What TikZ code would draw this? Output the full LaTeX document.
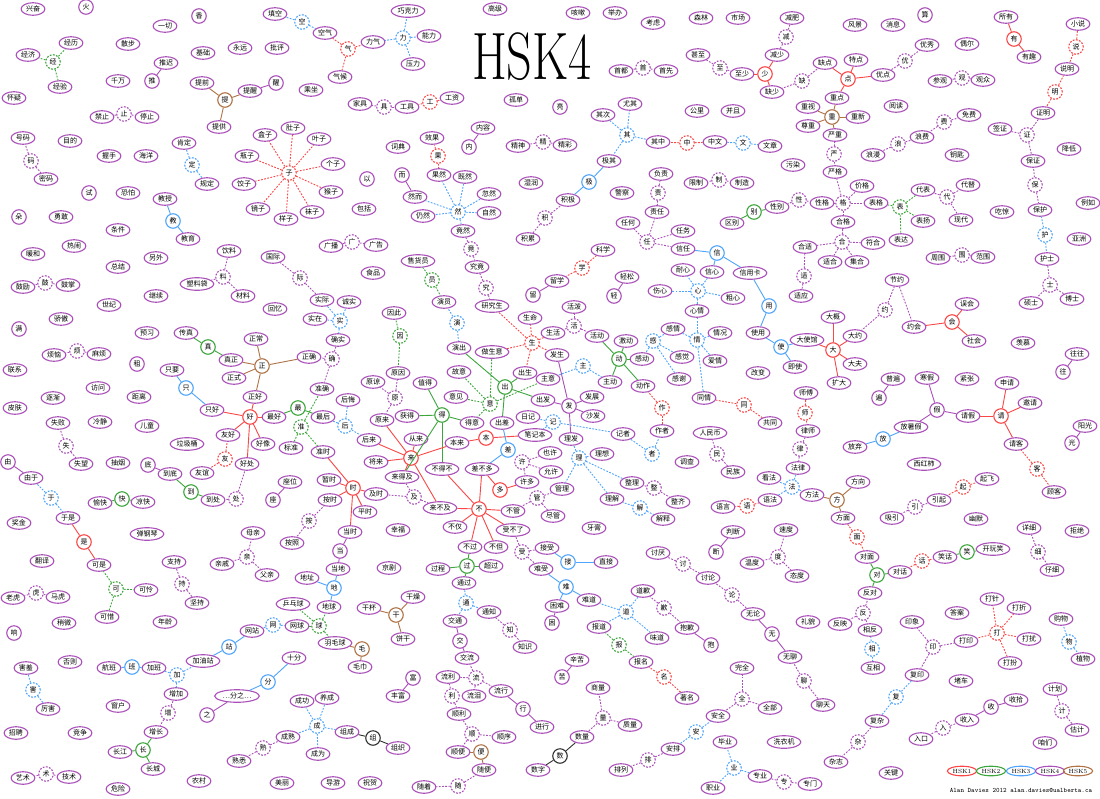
\documentclass[tikz,border=0pt]{standalone}
\usepackage{fontspec}
\usepackage{graphicx}
\newfontfamily\cjk{Noto Sans CJK SC}
\usetikzlibrary{shapes.geometric}
\definecolor{cR}{RGB}{250,70,70}
\definecolor{cG}{RGB}{60,165,60}
\definecolor{cB}{RGB}{80,165,250}
\definecolor{cP}{RGB}{170,80,185}
\definecolor{cN}{RGB}{175,115,70}
\definecolor{cK}{RGB}{50,50,50}
\tikzset{
 basic/.style={font=\cjk\fontsize{7}{7}\selectfont, fill=white, line width=1.1pt},
 w/.style={basic, ellipse, draw=cP, inner xsep=1.4pt, inner ysep=1.2pt, text height=5.6pt, text depth=0.9pt},
 hub/.style={basic, circle, minimum size=14.5pt, inner sep=0pt},
 dsh/.style={dash pattern=on 1.8pt off 1.4pt},
 hR/.style={hub, draw=cR}, hRd/.style={hR, dsh},
 hG/.style={hub, draw=cG}, hGd/.style={hG, dsh},
 hB/.style={hub, draw=cB}, hBd/.style={hB, dsh},
 hP/.style={hub, draw=cP}, hPd/.style={hP, dsh},
 hN/.style={hub, draw=cN}, hK/.style={hub, draw=cK},
 edge/.style={line width=0.9pt},
 eR/.style={edge, draw=cR}, eRd/.style={eR, dsh},
 eG/.style={edge, draw=cG}, eGd/.style={eG, dsh},
 eB/.style={edge, draw=cB}, eBd/.style={eB, dsh},
 eP/.style={edge, draw=cP}, ePd/.style={eP, dsh},
 eN/.style={edge, draw=cN}, eK/.style={edge, draw=cK},
 lg/.style={ellipse, line width=1.1pt, fill=white, inner xsep=1pt, inner ysep=1.2pt, font=\fontsize{6}{6}\selectfont}
}
\newcommand\WN[3]{\node[w] (#3) at (#1,#2) {#3};}
\newcommand\HB[4]{\node[#1] (#4) at (#2,#3) {#4};}
\newcommand\LK[3]{\foreach \tg in {#3}{\draw[#1] (#2) -- (\tg);}}
\begin{document}
\begin{tikzpicture}[x=1pt,y=-1pt]
\useasboundingbox (0,0) rectangle (1100,798);
\fill[white] (0,0) rectangle (1100,798);
\node[anchor=base] (title) at (532,79) {\scalebox{0.75}[1]{\fontsize{67}{67}\selectfont HSK4}};
% ---------- region 1
\WN{33}{9}{兴奋}\HB{hP}{86}{7}{火}\HB{hP}{199}{16}{香}\WN{165}{26}{一切}\WN{275}{14}{填空}
\WN{71}{43}{经历}\WN{28}{55}{经济}\HB{hGd}{53}{62}{经}\WN{60}{87}{经验}\WN{128}{44}{散步}
\WN{166}{63}{推迟}\HB{hP}{152}{81}{推}\WN{118}{81}{千万}\WN{203}{53}{基础}\WN{240}{48}{永远}
\WN{277}{48}{批评}\WN{202}{83}{提前}\HB{hN}{225}{100}{提}\WN{250}{91}{提醒}\HB{hP}{276}{83}{醒}
\WN{219}{127}{提供}\WN{14}{98}{怀疑}\WN{102}{117}{禁止}\HB{hPd}{124}{114}{止}\WN{147}{117}{停止}
\WN{23}{138}{号码}\HB{hPd}{31}{161}{码}\WN{46}{179}{密码}\WN{70}{141}{目的}\WN{109}{156}{握手}
\WN{146}{156}{海洋}\WN{184}{143}{肯定}\HB{hBd}{192}{165}{定}\WN{207}{184}{规定}\WN{265}{135}{盒子}
\WN{247}{156}{瓶子}\WN{244}{184}{饺子}\WN{258}{209}{镜子}\HB{hP}{89}{193}{试}\WN{128}{193}{恐怕}
\WN{165}{199}{教授}\HB{hB}{173}{221}{教}\WN{188}{239}{教育}\HB{hP}{19}{217}{朵}\WN{61}{217}{勇敢}
\WN{118}{230}{条件}\WN{33}{254}{暖和}\WN{74}{246}{热闹}\WN{156}{258}{另外}\WN{229}{251}{饮料}
\WN{273}{257}{国际}\WN{118}{267}{总结}\HB{hRd}{289}{173}{子}
% ---------- region 2
\HB{hBd}{302}{22}{空}\WN{325}{33}{空气}\HB{hRd}{348}{49}{气}\WN{340}{77}{气候}\WN{373}{42}{力气}
\HB{hBd}{403}{38}{力}\WN{408}{11}{巧克力}\WN{429}{36}{能力}\WN{413}{64}{压力}\WN{495}{9}{高级}
\WN{311}{90}{乘坐}\WN{360}{104}{家具}\HB{hPd}{384}{107}{具}\WN{407}{107}{工具}\HB{hRd}{430}{102}{工}
\WN{452}{98}{工资}\WN{516}{100}{孤单}\WN{293}{128}{肚子}\WN{319}{139}{叶子}\WN{333}{164}{个子}
\WN{331}{192}{猴子}\WN{312}{212}{袜子}\WN{286}{219}{样子}\WN{398}{147}{词典}\WN{432}{138}{效果}
\HB{hRd}{438}{156}{果}\WN{483}{128}{内容}\HB{hP}{469}{147}{内}\WN{518}{146}{精神}\HB{hPd}{543}{142}{精}
\HB{hP}{367}{179}{以}\HB{hP}{402}{175}{而}\WN{415}{197}{然而}\WN{439}{175}{果然}\WN{465}{177}{既然}
\WN{489}{194}{忽然}\HB{hBd}{458}{212}{然}\WN{423}{216}{仍然}\WN{489}{213}{自然}\WN{463}{231}{竟然}
\HB{hPd}{471}{249}{竟}\WN{477}{267}{究竟}\WN{531}{183}{湿润}\HB{hPd}{545}{218}{积}\WN{528}{239}{积累}
\WN{364}{209}{包括}\WN{331}{246}{广播}\HB{hPd}{352}{242}{广}\WN{376}{245}{广告}\WN{418}{261}{售货员}
% ---------- region 3
\WN{578}{13}{咳嗽}\WN{615}{13}{举办}\WN{653}{23}{考虑}\WN{701}{18}{森林}\WN{738}{18}{市场}
\WN{792}{18}{减肥}\HB{hPd}{786}{37}{减}\WN{777}{55}{减少}\HB{hR}{765}{74}{少}\WN{772}{92}{缺少}
\HB{hPd}{802}{81}{缺}\WN{698}{55}{甚至}\HB{hPd}{720}{68}{至}\WN{742}{74}{至少}\WN{621}{71}{首都}
\HB{hPd}{643}{68}{首}\WN{666}{71}{首先}\HB{hP}{560}{107}{亮}\WN{630}{104}{尤其}\WN{603}{115}{其次}
\HB{hBd}{627}{135}{其}\WN{658}{142}{其中}\HB{hRd}{687}{143}{中}\WN{715}{142}{中文}\HB{hBd}{743}{143}{文}
\WN{770}{146}{文章}\WN{697}{111}{公里}\WN{733}{111}{并且}\WN{808}{107}{重视}\WN{808}{126}{尊重}
\WN{565}{145}{精彩}\WN{609}{161}{极其}\HB{hB}{589}{182}{极}\WN{568}{200}{积极}\WN{661}{174}{负责}
\HB{hPd}{658}{193}{责}\WN{657}{212}{责任}\WN{622}{193}{警察}\WN{696}{183}{限制}\HB{hPd}{719}{180}{制}
\WN{742}{183}{制造}\WN{793}{165}{污染}\WN{628}{223}{任何}\HB{hPd}{647}{242}{任}\WN{683}{231}{任务}
\WN{683}{249}{信任}\HB{hB}{717}{253}{信}\WN{732}{223}{区别}\HB{hG}{754}{212}{别}\WN{777}{207}{性别}
\HB{hPd}{799}{200}{性}\WN{822}{203}{性格}\WN{805}{247}{合适}\WN{603}{250}{科学}\HB{hRd}{582}{268}{学}
% ---------- region 4
\WN{855}{25}{风景}\WN{893}{25}{消息}\HB{hP}{925}{15}{算}\WN{1006}{17}{所有}\HB{hR}{1014}{39}{有}
\WN{1029}{57}{有趣}\WN{1078}{24}{小说}\HB{hRd}{1076}{47}{说}\WN{1067}{69}{说明}\HB{hRd}{1055}{92}{明}
\WN{1043}{113}{证明}\HB{hPd}{1027}{135}{证}\WN{1000}{129}{签证}\WN{1033}{161}{保证}\HB{hPd}{1035}{185}{保}
\WN{1040}{210}{保护}\HB{hBd}{1045}{235}{护}\WN{1047}{259}{护士}\WN{825}{63}{缺点}\WN{856}{60}{特点}
\HB{hR}{848}{79}{点}\WN{883}{75}{优点}\HB{hPd}{905}{61}{优}\WN{927}{45}{优秀}\WN{967}{44}{偶尔}
\WN{940}{81}{参观}\HB{hPd}{962}{78}{观}\WN{983}{80}{观众}\WN{837}{98}{重点}\HB{hN}{832}{117}{重}
\WN{858}{117}{重新}\WN{835}{135}{严重}\HB{hPd}{834}{154}{严}\WN{835}{172}{严格}\WN{896}{106}{阅读}
\WN{969}{115}{免费}\HB{hPd}{944}{122}{费}\WN{922}{137}{浪费}\HB{hPd}{898}{144}{浪}\WN{873}{155}{浪漫}
\WN{957}{155}{钥匙}\WN{1069}{149}{降低}\WN{862}{186}{价格}\HB{hPd}{843}{203}{格}\WN{876}{203}{表格}
\HB{hGd}{900}{207}{表}\WN{923}{190}{代表}\HB{hPd}{947}{197}{代}\WN{968}{185}{代替}\WN{961}{220}{现代}
\WN{923}{221}{表扬}\WN{901}{240}{表达}\WN{843}{222}{合格}\HB{hPd}{842}{242}{合}\WN{873}{243}{符合}
\WN{830}{262}{适合}\WN{857}{262}{集合}\WN{1002}{212}{吃惊}\WN{1088}{203}{例如}\WN{1079}{239}{亚洲}
\WN{938}{258}{周围}\HB{hPd}{962}{255}{围}\WN{983}{257}{范围}
% ---------- region 5
\WN{23}{287}{鼓励}\HB{hPd}{45}{283}{鼓}\WN{68}{285}{鼓掌}\WN{197}{284}{塑料袋}\HB{hPd}{223}{277}{料}
\WN{243}{296}{材料}\WN{156}{296}{继续}\WN{109}{305}{世纪}\WN{275}{309}{回忆}\WN{61}{319}{骄傲}
\HB{hP}{19}{329}{满}\WN{147}{333}{预习}\WN{186}{333}{传真}\HB{hG}{208}{347}{真}\WN{231}{360}{真正}
\WN{256}{339}{正常}\HB{hN}{262}{366}{正}\WN{234}{378}{正式}\WN{255}{397}{正好}\WN{54}{355}{烦恼}
\HB{hPd}{77}{351}{烦}\WN{99}{354}{麻烦}\WN{15}{370}{联系}\HB{hP}{137}{364}{租}\WN{172}{370}{只要}
\HB{hB}{186}{388}{只}\WN{212}{410}{只好}\WN{98}{388}{访问}\WN{53}{398}{逐渐}\WN{139}{397}{距离}
\WN{15}{408}{皮肤}\HB{hR}{250}{417}{好}\WN{274}{417}{最好}\WN{100}{422}{冷静}\WN{58}{423}{失败}
\HB{hPd}{66}{446}{失}\WN{81}{464}{失望}\WN{147}{426}{儿童}\WN{228}{435}{友好}\WN{263}{444}{好像}
\WN{187}{444}{垃圾桶}\HB{hRd}{225}{459}{友}\WN{202}{473}{友谊}\WN{247}{464}{好处}\HB{hPd}{236}{499}{处}
\HB{hP}{8}{462}{由}\WN{31}{478}{由于}\HB{hBd}{51}{498}{于}\WN{68}{518}{于是}\WN{118}{463}{抽烟}
\HB{hP}{148}{465}{底}\WN{170}{474}{到底}\HB{hG}{191}{492}{到}\WN{213}{500}{到处}\WN{100}{503}{愉快}
\HB{hG}{122}{499}{快}\WN{143}{502}{凉快}\HB{hP}{273}{500}{座}\WN{19}{523}{奖金}\WN{147}{534}{弹钢琴}
\WN{253}{533}{母亲}
% ---------- region 6
\HB{hPd}{300}{278}{际}\WN{373}{273}{食品}\HB{hGd}{432}{280}{员}\WN{444}{302}{演员}\HB{hBd}{457}{323}{演}
\WN{459}{348}{演出}\HB{hPd}{486}{288}{究}\WN{492}{306}{研究生}\HB{hP}{533}{295}{留}\WN{322}{300}{实际}
\WN{349}{302}{诚实}\WN{315}{319}{实在}\HB{hBd}{340}{321}{实}\WN{338}{340}{确实}\HB{hPd}{332}{359}{确}
\WN{309}{357}{正确}\WN{394}{313}{因此}\HB{hGd}{400}{336}{因}\WN{398}{373}{原因}\HB{hPd}{395}{398}{原}
\WN{373}{382}{原谅}\WN{382}{420}{原来}\WN{530}{318}{生命}\HB{hRd}{532}{343}{生}\WN{492}{352}{做生意}
\WN{525}{373}{出生}\WN{459}{372}{故意}\WN{425}{383}{值得}\HB{hG}{505}{387}{出}\WN{548}{379}{主意}
\HB{hGd}{490}{404}{意}\WN{456}{397}{意见}\WN{543}{400}{出发}\WN{322}{389}{准确}\HB{hG}{298}{408}{最}
\WN{323}{417}{最后}\WN{348}{400}{后悔}\HB{hBd}{345}{426}{后}\HB{hGd}{301}{427}{准}\WN{291}{448}{标准}
\WN{323}{452}{准时}\WN{407}{416}{获得}\HB{hG}{442}{415}{得}\WN{472}{423}{得意}\WN{502}{423}{出差}
\WN{528}{417}{日记}\WN{369}{440}{后来}\WN{416}{439}{从来}\WN{457}{443}{本来}\HB{hR}{486}{438}{本}
\WN{535}{435}{笔记本}\HB{hR}{411}{458}{来}\WN{376}{462}{将来}\WN{442}{469}{不得不}\HB{hB}{508}{450}{差}
\WN{482}{469}{差不多}\HB{hPd}{522}{462}{许}\WN{402}{477}{来得及}\HB{hR}{500}{490}{多}\WN{527}{482}{许多}
\WN{329}{480}{暂时}\HB{hR}{353}{488}{时}\WN{290}{482}{座位}\WN{376}{494}{及时}\HB{hPd}{414}{497}{及}
\WN{330}{500}{按时}\WN{365}{512}{平时}\HB{hPd}{309}{521}{按}\WN{440}{508}{来不及}\HB{hR}{479}{509}{不}
\WN{513}{511}{不管}\HB{hPd}{537}{498}{管}\WN{350}{532}{当时}\WN{398}{530}{幸福}\WN{455}{527}{不仅}
\WN{513}{530}{受不了}
% ---------- region 7
\WN{557}{281}{留学}\WN{627}{277}{轻松}\HB{hP}{614}{296}{轻}\WN{683}{270}{耐心}\WN{712}{272}{信心}
\WN{750}{273}{信用卡}\HB{hPd}{804}{276}{适}\WN{801}{296}{适应}\WN{660}{291}{伤心}\HB{hBd}{698}{291}{心}
\WN{733}{298}{粗心}\WN{697}{311}{心情}\HB{hB}{769}{306}{用}\WN{574}{307}{活泼}\HB{hPd}{574}{326}{活}
\WN{553}{333}{生活}\WN{597}{336}{活动}\WN{626}{341}{激动}\HB{hBd}{653}{341}{感}\WN{673}{329}{感情}
\HB{hBd}{697}{340}{情}\WN{720}{333}{情况}\WN{758}{333}{使用}\HB{hB}{781}{347}{使}\WN{807}{340}{大使馆}
\WN{557}{355}{发生}\HB{hG}{619}{359}{动}\WN{642}{359}{感动}\WN{682}{357}{感觉}\WN{715}{361}{爱情}
\WN{795}{367}{即使}\HB{hBd}{583}{366}{主}\WN{610}{382}{主动}\WN{679}{379}{感谢}\WN{758}{373}{改变}
\WN{643}{386}{动作}\WN{592}{397}{发展}\HB{hP}{569}{406}{发}\WN{593}{416}{沙发}\WN{704}{398}{同情}
\HB{hRd}{744}{405}{同}\HB{hRd}{662}{408}{作}\WN{806}{393}{师傅}\HB{hRd}{805}{413}{师}\WN{770}{423}{共同}
\HB{hBd}{553}{422}{记}\WN{623}{434}{记者}\WN{662}{431}{作者}\WN{710}{433}{人民币}\WN{808}{431}{律师}
\WN{571}{439}{理发}\WN{550}{453}{也许}\HB{hBd}{652}{454}{者}\HB{hPd}{717}{454}{民}\HB{hPd}{800}{449}{律}
\HB{hBd}{579}{458}{理}\WN{602}{454}{理想}\WN{687}{462}{调查}\WN{551}{472}{允许}\WN{798}{468}{法律}
\WN{733}{472}{民族}\WN{769}{478}{看法}\HB{hBd}{792}{487}{法}\WN{632}{483}{整理}\HB{hPd}{654}{488}{整}
\WN{562}{489}{管理}\WN{812}{495}{方法}\WN{678}{502}{整齐}\WN{612}{499}{理解}\WN{770}{500}{语法}
\WN{723}{507}{语言}\HB{hRd}{747}{506}{语}\HB{hBd}{640}{508}{解}\WN{553}{516}{尽管}\WN{663}{519}{解释}
\WN{594}{528}{牙膏}\WN{733}{532}{判断}\WN{786}{530}{速度}
% ---------- region 8
\HB{hPd}{1050}{285}{士}\WN{1031}{303}{硕士}\WN{1072}{299}{博士}\WN{897}{280}{节约}\HB{hPd}{885}{310}{约}
\WN{914}{327}{约会}\HB{hR}{952}{322}{会}\WN{967}{304}{误会}\WN{974}{341}{社会}\WN{833}{317}{大概}
\WN{855}{336}{大约}\HB{hR}{833}{350}{大}\WN{855}{364}{大夫}\WN{839}{383}{扩大}\WN{1023}{343}{羡慕}
\WN{1077}{354}{往往}\HB{hP}{1063}{372}{往}\WN{893}{379}{普遍}\HB{hP}{879}{398}{遍}\WN{927}{378}{寒假}
\WN{967}{379}{紧张}\WN{1007}{383}{申请}\WN{1030}{403}{邀请}\HB{hP}{937}{410}{假}\WN{968}{416}{请假}
\HB{hR}{1001}{416}{请}\WN{911}{427}{放暑假}\HB{hB}{883}{439}{放}\WN{855}{447}{放弃}\WN{1016}{444}{请客}
\WN{1085}{426}{阳光}\HB{hP}{1072}{443}{光}\HB{hRd}{1037}{469}{客}\WN{1054}{492}{顾客}\WN{924}{464}{西红柿}
\WN{858}{482}{方向}\HB{hRd}{963}{487}{起}\WN{987}{479}{起飞}\HB{hN}{837}{500}{方}\WN{939}{500}{引起}
\HB{hPd}{915}{507}{引}\WN{892}{518}{吸引}\WN{843}{518}{方面}\WN{976}{519}{幽默}\HB{hRd}{857}{537}{面}
\WN{1029}{528}{详细}\WN{1077}{531}{拒绝}
% ---------- region 9
\HB{hR}{84}{542}{是}\WN{99}{565}{可是}\WN{42}{561}{翻译}\WN{174}{562}{支持}\HB{hPd}{182}{584}{持}
\WN{197}{603}{坚持}\HB{hPd}{247}{557}{亲}\WN{222}{564}{亲戚}\WN{267}{575}{父亲}\HB{hGd}{116}{589}{可}
\WN{146}{590}{可怜}\WN{107}{617}{可惜}\WN{13}{598}{老虎}\HB{hPd}{36}{593}{虎}\WN{58}{597}{马虎}
\WN{64}{623}{稍微}\WN{165}{622}{年龄}\HB{hP}{14}{633}{响}\WN{252}{631}{网站}\HB{hBd}{273}{625}{网}
\HB{hB}{229}{647}{站}\WN{203}{661}{加油站}\HB{hBd}{177}{675}{加}\WN{109}{668}{航班}\HB{hB}{132}{667}{班}
\WN{154}{668}{加班}\WN{70}{662}{否则}\WN{26}{668}{害羞}\HB{hBd}{33}{690}{害}\WN{48}{709}{厉害}
\HB{hB}{268}{682}{分}\node[w] (fzz) at (237,696) {…分之…};\HB{hP}{207}{715}{之}\WN{176}{694}{增加}
\HB{hPd}{168}{713}{增}\WN{156}{732}{增长}\WN{118}{706}{窗户}\WN{16}{733}{招聘}\WN{80}{733}{竞争}
\WN{120}{752}{长江}\HB{hG}{143}{750}{长}\WN{153}{769}{长城}\HB{hPd}{263}{748}{熟}\WN{239}{761}{熟悉}
\WN{23}{778}{艺术}\HB{hPd}{46}{774}{术}\WN{69}{777}{技术}\WN{199}{781}{农村}\WN{118}{789}{危险}
% ---------- region 10
\WN{292}{543}{按照}\HB{hP}{340}{551}{当}\WN{338}{569}{当地}\WN{307}{578}{地址}\HB{hB}{334}{588}{地}
\WN{329}{607}{地球}\WN{293}{604}{乒乓球}\WN{297}{626}{网球}\HB{hGd}{319}{626}{球}\WN{335}{643}{羽毛球}
\HB{hN}{362}{649}{毛}\WN{360}{667}{毛巾}\WN{389}{568}{京剧}\WN{369}{608}{干杯}\HB{hN}{396}{615}{干}
\WN{413}{597}{干燥}\WN{403}{639}{饼干}\WN{294}{658}{十分}\HB{hP}{413}{678}{富}\WN{398}{696}{丰富}
\WN{302}{701}{成功}\WN{327}{698}{养成}\HB{hBd}{317}{726}{成}\WN{347}{732}{组成}\HB{hK}{373}{738}{组}
\WN{398}{748}{组织}\WN{288}{737}{成熟}\WN{318}{754}{成为}\WN{282}{783}{美丽}\WN{333}{783}{导游}
\WN{370}{783}{祝贺}\WN{470}{547}{不过}\WN{496}{547}{不但}\HB{hPd}{522}{552}{受}\WN{541}{569}{难受}
\WN{438}{569}{过程}\HB{hG}{467}{566}{过}\WN{491}{566}{超过}\WN{464}{583}{通过}\HB{hBd}{466}{603}{通}
\WN{489}{612}{通知}\WN{455}{621}{交通}\HB{hPd}{510}{630}{知}\HB{hP}{460}{641}{交}\WN{525}{647}{知识}
\WN{467}{658}{交流}\HB{hPd}{476}{678}{流}\WN{448}{677}{流利}\HB{hPd}{452}{696}{利}\WN{474}{696}{流泪}
\WN{501}{691}{流行}\HB{hP}{523}{709}{行}\WN{542}{727}{进行}\WN{459}{714}{顺利}\HB{hPd}{472}{734}{顺}
\WN{504}{737}{顺序}\WN{458}{752}{顺便}\HB{hN}{481}{752}{便}\WN{484}{770}{随便}\HB{hPd}{458}{786}{随}
\WN{424}{787}{随着}\WN{538}{770}{数字}
% ---------- region 11
\HB{hP}{716}{552}{断}\HB{hPd}{778}{557}{度}\WN{752}{563}{温度}\WN{797}{576}{态度}\WN{547}{548}{接受}
\HB{hB}{568}{562}{接}\WN{606}{562}{直接}\HB{hB}{566}{587}{难}\WN{589}{600}{难道}\WN{557}{606}{困难}
\HB{hP}{552}{623}{困}\WN{658}{553}{讨厌}\HB{hPd}{683}{564}{讨}\WN{708}{578}{讨论}\HB{hPd}{732}{595}{论}
\WN{753}{614}{无论}\HB{hP}{772}{634}{无}\WN{790}{657}{无聊}\HB{hPd}{804}{681}{聊}\WN{823}{705}{聊天}
\WN{808}{622}{礼貌}\WN{643}{591}{道歉}\HB{hBd}{626}{612}{道}\HB{hPd}{664}{608}{歉}\WN{687}{628}{抱歉}
\WN{599}{627}{报道}\WN{657}{638}{味道}\HB{hP}{711}{645}{抱}\HB{hGd}{619}{645}{报}\WN{641}{662}{报名}
\HB{hRd}{664}{677}{名}\WN{687}{698}{著名}\WN{577}{660}{辛苦}\HB{hP}{562}{677}{苦}\WN{742}{668}{完全}
\HB{hPd}{742}{699}{全}\WN{770}{708}{全部}\WN{598}{688}{商量}\HB{hPd}{603}{718}{量}\WN{630}{725}{质量}
\WN{718}{716}{安全}\HB{hBd}{696}{732}{安}\WN{582}{737}{数量}\WN{673}{749}{安排}\HB{hK}{560}{756}{数}
\HB{hPd}{648}{760}{排}\WN{621}{770}{排列}\WN{725}{742}{毕业}\HB{hBd}{734}{768}{业}\WN{760}{776}{专业}
\HB{hPd}{784}{782}{专}\WN{810}{784}{专门}\WN{713}{788}{职业}\WN{784}{742}{洗衣机}
% ---------- region 12
\WN{867}{557}{对面}\HB{hG}{877}{575}{对}\WN{900}{572}{对话}\HB{hRd}{922}{561}{话}\WN{945}{557}{笑话}
\HB{hG}{967}{552}{笑}\WN{993}{549}{开玩笑}\WN{870}{593}{反对}\HB{hPd}{863}{613}{反}\WN{840}{624}{反映}
\WN{870}{630}{相反}\HB{hBd}{872}{649}{相}\WN{873}{668}{互相}\HB{hPd}{1038}{552}{细}\WN{1052}{570}{仔细}
\WN{912}{622}{印象}\WN{957}{613}{答案}\WN{992}{599}{打针}\WN{1019}{608}{打折}\HB{hRd}{997}{633}{打}
\WN{1029}{639}{打扰}\WN{1010}{663}{打扮}\HB{hPd}{933}{647}{印}\WN{966}{641}{打印}\WN{1061}{619}{购物}
\HB{hBd}{1069}{642}{物}\WN{1083}{659}{植物}\WN{917}{675}{复印}\WN{961}{681}{堵车}\HB{hBd}{896}{697}{复}
\WN{1055}{689}{计划}\HB{hPd}{1062}{711}{计}\WN{1077}{730}{估计}\WN{1016}{700}{收拾}\HB{hP}{991}{707}{收}
\WN{967}{720}{收入}\HB{hPd}{943}{728}{入}\WN{921}{739}{入口}\WN{877}{721}{复杂}\HB{hPd}{858}{742}{杂}
\WN{836}{762}{杂志}\WN{1045}{743}{咱们}\WN{891}{773}{关键}
% ---------- edges
\LK{eGd}{经}{经历,经济,经验}\LK{eP}{推}{推迟}\LK{eN}{提}{提前,提醒,提供}\LK{eP}{醒}{提醒}
\LK{ePd}{止}{禁止,停止}\LK{ePd}{码}{号码,密码}\LK{eBd}{定}{肯定,规定}
\LK{eRd}{子}{盒子,瓶子,饺子,镜子,肚子,叶子,个子,猴子,袜子,样子}
\LK{eB}{教}{教授,教育}\LK{eBd}{空}{填空,空气}\LK{eRd}{气}{空气,气候,力气}
\LK{eBd}{力}{力气,巧克力,能力,压力}\LK{ePd}{具}{家具,工具}\LK{eRd}{工}{工具,工资}
\LK{eRd}{果}{效果,果然}\LK{eP}{内}{内容}\LK{ePd}{精}{精神,精彩}
\LK{eBd}{然}{然而,果然,既然,忽然,仍然,自然,竟然}\LK{eP}{而}{然而}
\LK{ePd}{竟}{竟然,究竟}\LK{ePd}{究}{究竟,研究生}\LK{ePd}{积}{积累,积极}\LK{ePd}{广}{广播,广告}
\LK{ePd}{料}{饮料,塑料袋,材料}\LK{ePd}{际}{国际,实际}\LK{eBd}{实}{实际,诚实,实在,确实}
\LK{ePd}{确}{确实,正确,准确}\LK{eGd}{员}{售货员,演员}\LK{eBd}{演}{演员,演出}
\LK{eGd}{因}{因此,原因}\LK{ePd}{原}{原因,原谅,原来}
\LK{eRd}{生}{研究生,生命,做生意,出生,生活,发生}\LK{eRd}{学}{科学,留学}\LK{eP}{留}{留学}
\LK{eG}{出}{演出,出生,出发,出差}\LK{eGd}{意}{故意,意见,得意,做生意,主意}
\LK{eG}{得}{值得,获得,得意,不得不,来得及}\LK{eG}{最}{最好,最后}\LK{eGd}{准}{准确,标准,准时}
\LK{eBd}{后}{后悔,最后,后来}\LK{eR}{好}{正好,只好,最好,友好,好像,好处}
\LK{eN}{正}{真正,正常,正式,正好,正确}\LK{eG}{真}{传真,真正}\LK{eB}{只}{只要,只好}
\LK{eRd}{友}{友好,友谊}\LK{ePd}{处}{好处,到处}\LK{eG}{到}{到底,到处}\LK{eP}{底}{到底}
\LK{eG}{快}{愉快,凉快}\LK{ePd}{失}{失败,失望}\LK{ePd}{鼓}{鼓励,鼓掌}\LK{ePd}{烦}{烦恼,麻烦}
\LK{eBd}{于}{由于,于是}\LK{eP}{由}{由于}\LK{eR}{是}{于是,可是}\LK{eGd}{可}{可是,可怜,可惜}
\LK{ePd}{虎}{老虎,马虎}\LK{ePd}{持}{支持,坚持}\LK{ePd}{亲}{母亲,亲戚,父亲}
\LK{eBd}{网}{网站,网球}\LK{eB}{站}{网站,加油站}\LK{eBd}{加}{加油站,加班,增加}
\LK{eB}{班}{航班,加班}\LK{ePd}{增}{增加,增长}\LK{eG}{长}{增长,长江,长城}
\LK{eBd}{害}{害羞,厉害}\LK{ePd}{术}{艺术,技术}\LK{eB}{分}{十分,fzz}\LK{eP}{之}{fzz}
\LK{ePd}{熟}{熟悉,成熟}\LK{eBd}{成}{成功,养成,组成,成熟,成为}\LK{eK}{组}{组成,组织}
\LK{eB}{地}{当地,地址,地球}\LK{eP}{当}{当时,当地}\LK{eGd}{球}{地球,乒乓球,网球,羽毛球}
\LK{eN}{毛}{羽毛球,毛巾}\LK{eN}{干}{干杯,干燥,饼干}\LK{eP}{富}{丰富}
\LK{eR}{时}{准时,暂时,及时,按时,平时,当时}\LK{ePd}{按}{按时,按照}
\LK{ePd}{及}{及时,来得及,来不及}\LK{eR}{来}{原来,后来,从来,本来,将来,来得及,来不及}
\LK{eR}{本}{本来,笔记本}\LK{eBd}{记}{日记,笔记本,记者}\LK{eBd}{者}{记者,作者}
\LK{eRd}{作}{动作,作者}\LK{eR}{不}{不得不,差不多,来不及,不管,不仅,不过,不但,受不了}
\LK{eB}{差}{出差,差不多}\LK{eR}{多}{差不多,许多}\LK{ePd}{许}{许多,也许,允许}
\LK{ePd}{管}{不管,管理,尽管}\LK{eBd}{理}{理发,理想,管理,整理,理解}
\LK{eP}{发}{出发,发生,发展,沙发,理发}\LK{eBd}{主}{主意,主动}\LK{ePd}{活}{活泼,生活,活动}
\LK{eG}{动}{活动,激动,感动,主动,动作}\LK{eBd}{感}{感情,感动,感觉,感谢}
\LK{eBd}{情}{感情,心情,情况,爱情,同情}\LK{eBd}{心}{耐心,信心,伤心,粗心,心情}
\LK{eB}{信}{信任,信心,信用卡}\LK{ePd}{任}{任何,责任,任务,信任}\LK{ePd}{责}{负责,责任}
\LK{eB}{用}{信用卡,使用}\LK{eB}{使}{使用,大使馆,即使}\LK{eRd}{同}{同情,共同}
\LK{eBd}{其}{尤其,其次,其中,极其}\LK{eB}{极}{极其,积极}\LK{eRd}{中}{其中,中文}
\LK{eBd}{文}{中文,文章}\LK{ePd}{首}{首都,首先}\LK{ePd}{至}{甚至,至少}
\LK{eR}{少}{至少,减少,缺少}\LK{ePd}{减}{减肥,减少}\LK{ePd}{缺}{缺少,缺点}
\LK{eR}{点}{缺点,特点,优点,重点}\LK{ePd}{优}{优点,优秀}\LK{ePd}{观}{参观,观众}
\LK{eN}{重}{重点,重视,尊重,重新,严重}\LK{ePd}{严}{严重,严格}
\LK{ePd}{格}{严格,价格,性格,表格,合格}\LK{ePd}{性}{性别,性格}\LK{eG}{别}{区别,性别}
\LK{ePd}{制}{限制,制造}\LK{eGd}{表}{表格,代表,表扬,表达}\LK{ePd}{代}{代表,代替,现代}
\LK{ePd}{合}{合格,符合,适合,集合,合适}\LK{ePd}{适}{合适,适应}
\LK{ePd}{浪}{浪漫,浪费}\LK{ePd}{费}{浪费,免费}\LK{eR}{有}{所有,有趣}
\LK{eRd}{说}{小说,说明}\LK{eRd}{明}{说明,证明}\LK{ePd}{证}{证明,签证,保证}
\LK{ePd}{保}{保证,保护}\LK{eBd}{护}{保护,护士}\LK{ePd}{士}{护士,硕士,博士}
\LK{ePd}{围}{周围,范围}\LK{ePd}{约}{节约,大约}\LK{ePd}{节约}{约会}\LK{eR}{会}{约会,误会,社会}
\LK{eR}{大}{大概,大约,大夫,扩大,大使馆}\LK{eP}{遍}{普遍}\LK{eP}{往}{往往}
\LK{eP}{假}{寒假,请假,放暑假}\LK{eR}{请}{请假,申请,邀请,请客}\LK{eRd}{客}{请客,顾客}
\LK{eB}{放}{放暑假,放弃}\LK{eP}{光}{阳光}\LK{eRd}{起}{起飞,引起}\LK{ePd}{引}{引起,吸引}
\LK{eN}{方}{方向,方面,方法}\LK{eRd}{面}{方面,对面}\LK{eG}{对}{对面,对话,反对}
\LK{eRd}{话}{对话,笑话}\LK{eG}{笑}{笑话,开玩笑}\LK{ePd}{反}{反对,反映,相反}
\LK{eBd}{相}{相反,互相}\LK{ePd}{细}{详细,仔细}\LK{eBd}{法}{方法,看法,语法,法律}
\LK{ePd}{律}{法律,律师}\LK{eRd}{师}{律师,师傅}\LK{eRd}{语}{语言,语法}\LK{ePd}{民}{人民币,民族}
\LK{ePd}{整}{整理,整齐}\LK{eBd}{解}{理解,解释}\LK{ePd}{度}{速度,温度,态度}\LK{eP}{断}{判断}
\LK{ePd}{讨}{讨厌,讨论}\LK{ePd}{论}{讨论,无论}\LK{eP}{无}{无论,无聊}\LK{ePd}{聊}{无聊,聊天}
\LK{eB}{接}{接受,直接}\LK{ePd}{受}{受不了,接受,难受}\LK{eB}{难}{难受,难道,困难}\LK{eP}{困}{困难}
\LK{eBd}{道}{难道,道歉,报道,味道}\LK{ePd}{歉}{道歉,抱歉}\LK{eP}{抱}{抱歉}
\LK{eGd}{报}{报道,报名}\LK{eRd}{名}{报名,著名}\LK{eP}{苦}{辛苦}\LK{ePd}{全}{完全,全部,安全}
\LK{eBd}{安}{安全,安排}\LK{ePd}{排}{安排,排列}\LK{ePd}{量}{商量,质量,数量}\LK{eK}{数}{数量,数字}
\LK{eBd}{业}{毕业,专业,职业}\LK{ePd}{专}{专业,专门}\LK{eG}{过}{不过,过程,超过,通过}
\LK{eBd}{通}{通过,通知,交通}\LK{ePd}{知}{通知,知识}\LK{eP}{交}{交通,交流}
\LK{ePd}{流}{交流,流利,流泪,流行}\LK{ePd}{利}{流利,顺利}\LK{eP}{行}{流行,进行}
\LK{ePd}{顺}{顺利,顺序,顺便}\LK{eN}{便}{顺便,随便}\LK{ePd}{随}{随便,随着}
\LK{ePd}{印}{印象,打印,复印}\LK{eRd}{打}{打印,打针,打折,打扰,打扮}\LK{eBd}{物}{购物,植物}
\LK{eBd}{复}{复印,复杂}\LK{ePd}{杂}{复杂,杂志}\LK{ePd}{计}{计划,估计}\LK{eP}{收}{收拾,收入}
\LK{ePd}{入}{收入,入口}\LK{eP}{轻}{轻松}\LK{eP}{座}{座位}
% ---------- legend
\node[lg, draw=cR] (L1) at (962,771) {HSK1};
\node[lg, draw=cG] (L2) at (991,771) {HSK2};
\node[lg, draw=cB] (L3) at (1021,771) {HSK3};
\node[lg, draw=cP] (L4) at (1050,771) {HSK4};
\node[lg, draw=cN] (L5) at (1078,771) {HSK5};
\draw[eG] (L1) -- (L2); \draw[eB] (L2) -- (L3); \draw[eP] (L3) -- (L4); \draw[eN] (L4) -- (L5);
\node[anchor=base, font=\ttfamily\fontsize{6.7}{7}\selectfont] (credit) at (1021,792) {Alan Davies 2012 alan.davies@ualberta.ca};
\end{tikzpicture}
\end{document}
